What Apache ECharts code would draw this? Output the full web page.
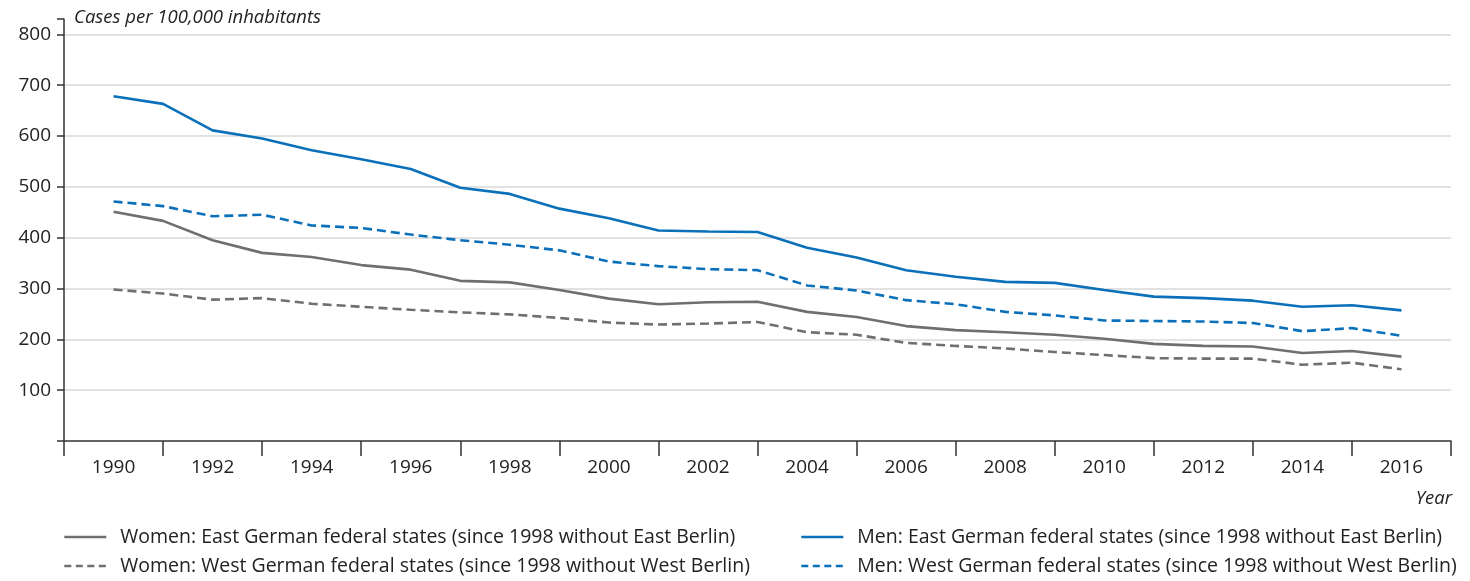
<!DOCTYPE html>
<html>
<head>
<meta charset="utf-8">
<script src="https://cdn.jsdelivr.net/npm/echarts@6/dist/echarts.min.js"></script>
<style>
  html, body { margin: 0; padding: 0; background: #fff; }
</style>
</head>
<body>
<!-- chart container, same size as the window -->
<div id="main" style="width: 1470px; height: 581px;"></div>
<script>
// years shown on the x axis (labels), and every data year
var labelYears = ['1990', '1992', '1994', '1996', '1998', '2000', '2002', '2004', '2006', '2008', '2010', '2012', '2014', '2016']
var years = [1990, 1991, 1992, 1993, 1994, 1995, 1996, 1997, 1998, 1999, 2000, 2001, 2002, 2003,
  2004, 2005, 2006, 2007, 2008, 2009, 2010, 2011, 2012, 2013, 2014, 2015, 2016]
var yTicks = [100, 200, 300, 400, 500, 600, 700, 800]

// cases per 100,000 inhabitants
var womenEast = [451, 433, 395, 370, 362, 346, 337, 315, 312, 297, 280, 269, 273, 274,
  254, 244, 226, 218, 214, 209, 201, 191, 187, 186, 173, 177, 166]
var womenWest = [298, 290, 278, 281, 270, 264, 258, 253, 249, 242, 233, 229, 231, 234,
  214, 209, 193, 187, 182, 175, 169, 163, 162, 162, 150, 154, 141]
var menEast = [678, 663, 611, 595, 572, 554, 535, 498, 486, 457, 438, 414, 412, 411,
  380, 361, 336, 323, 313, 311, 297, 284, 281, 276, 264, 267, 257]
var menWest = [471, 462, 442, 445, 424, 419, 406, 395, 386, 375, 353, 344, 338, 336,
  306, 296, 277, 269, 254, 247, 237, 236, 235, 232, 216, 222, 207]

var names = [
  'Women: East German federal states (since 1998 without East Berlin)',
  'Women: West German federal states (since 1998 without West Berlin)',
  'Men: East German federal states (since 1998 without East Berlin)',
  'Men: West German federal states (since 1998 without West Berlin)'
]

var blue = '#0b70ba'
var grey = '#6f6f72'
var font = 'Open Sans'

function pairs (vals) {
  return years.map(function (y, i) { return [y, vals[i]] })
}

function makeSeries (name, vals, color, dashed) {
  return {
    name: name,
    type: 'line',
    xAxisIndex: 1,
    data: pairs(vals),
    symbol: 'none',
    silent: true,
    color: color,
    lineStyle: { color: color, width: 2.6, type: dashed ? [9, 5] : 'solid' }
  }
}

// one legend per entry so every row sits where it should
function makeLegend (name, left, top, color, dashed) {
  return {
    left: left,
    top: top,
    padding: 0,
    itemWidth: 42,
    itemHeight: 20,
    selectedMode: false,
    itemStyle: { opacity: 0 },
    lineStyle: { color: color, width: 2.6, type: dashed ? [7, 4.5] : 'solid' },
    textStyle: {
      fontFamily: font,
      fontSize: 19.5,
      color: '#222',
      lineHeight: 20,
      padding: [0, 0, 0, 9]
    },
    data: [name]
  }
}

var option = {
  animation: false,
  textStyle: { fontFamily: font },
  title: [
    {
      text: 'Cases per 100,000 inhabitants',
      left: 69,
      top: 3,
      textStyle: { fontFamily: font, fontSize: 18.5, fontStyle: 'italic', fontWeight: 'normal', color: '#222' }
    },
    {
      text: 'Year',
      right: 13,
      top: 484,
      textStyle: { fontFamily: font, fontSize: 18.5, fontStyle: 'italic', fontWeight: 'normal', color: '#222' }
    }
  ],
  legend: [
    makeLegend(names[0], 63, 527, grey, false),
    makeLegend(names[1], 63, 556, grey, true),
    makeLegend(names[2], 800, 527, blue, false),
    makeLegend(names[3], 800, 556, blue, true)
  ],
  grid: { left: 64, right: 19, top: 19, bottom: 140 },
  xAxis: [
    {
      type: 'category',
      data: labelYears,
      boundaryGap: true,
      axisLine: { show: true, lineStyle: { color: '#333', width: 1.5 } },
      axisTick: { show: true, interval: 0, length: 15, lineStyle: { color: '#333', width: 1.5 } },
      axisLabel: { margin: 17, fontFamily: font, fontSize: 19, color: '#222' },
      splitLine: { show: false }
    },
    {
      type: 'value',
      min: 1989,
      max: 2017,
      show: false
    }
  ],
  yAxis: {
    type: 'value',
    min: 0,
    max: 830,
    interval: 100,
    axisLine: { show: true, lineStyle: { color: '#333', width: 1.5 } },
    axisTick: { show: true, length: 7, lineStyle: { color: '#333', width: 1.5 } },
    axisLabel: { customValues: yTicks, margin: 13, fontFamily: font, fontSize: 19, color: '#222' },
    splitLine: { show: true, showMinLine: false, showMaxLine: false, lineStyle: { color: '#d9d9d9', width: 1.5 } }
  },
  series: [
    makeSeries(names[0], womenEast, grey, false),
    makeSeries(names[1], womenWest, grey, true),
    makeSeries(names[2], menEast, blue, false),
    makeSeries(names[3], menWest, blue, true)
  ]
}

var chart = echarts.init(document.getElementById('main'))
chart.setOption(option)
</script>
</body>
</html>
